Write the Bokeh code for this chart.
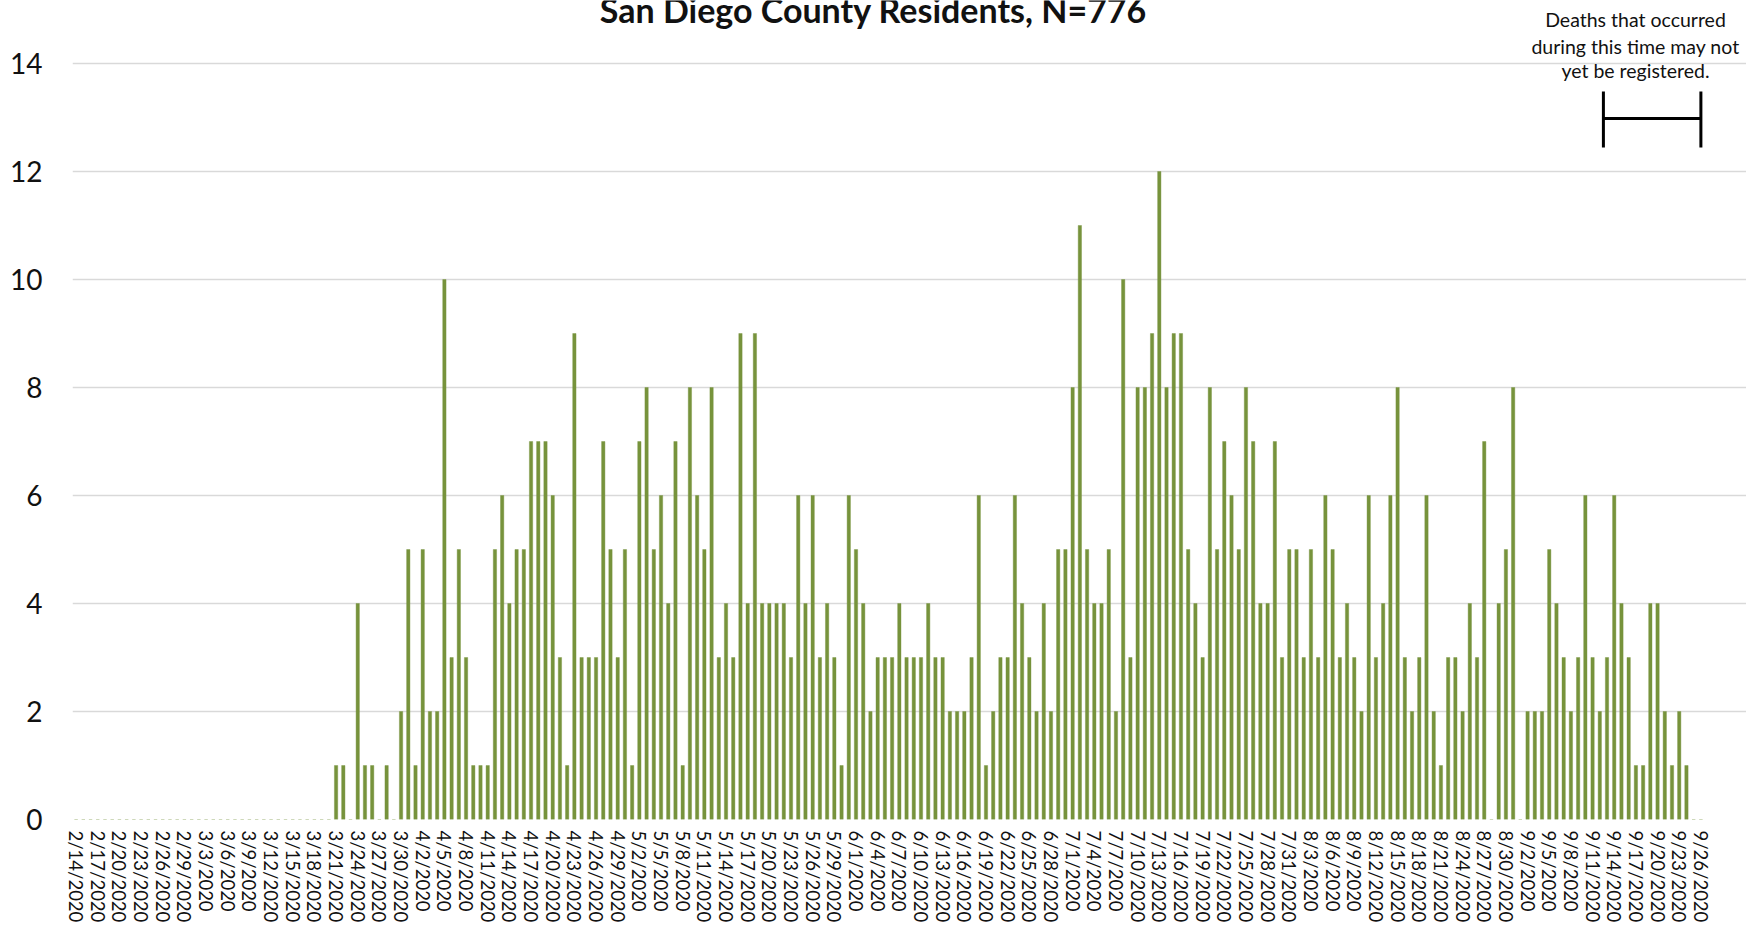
import pandas as pd
from bokeh.plotting import figure
from bokeh.models import Range1d, FixedTicker, ColumnDataSource, Label
from bokeh.embed import file_html
from bokeh.resources import INLINE

# Daily deaths by date of death, 2/14/2020 - 9/26/2020
feb = [0, 0, 0, 0, 0, 0, 0, 0, 0, 0, 0, 0, 0, 0, 0, 0]
mar = [0, 0, 0, 0, 0, 0, 0, 0, 0, 0, 0, 0, 0, 0, 0, 0, 0, 0, 0, 0,
       1, 1, 0, 4, 1, 1, 0, 1, 0, 2, 5]
apr = [1, 5, 2, 2, 10, 3, 5, 3, 1, 1, 1, 5, 6, 4, 5, 5, 7, 7, 7, 6,
       3, 1, 9, 3, 3, 3, 7, 5, 3, 5]
may = [1, 7, 8, 5, 6, 4, 7, 1, 8, 6, 5, 8, 3, 4, 3, 9, 4, 9, 4, 4,
       4, 4, 3, 6, 4, 6, 3, 4, 3, 1, 6]
jun = [5, 4, 2, 3, 3, 3, 4, 3, 3, 3, 4, 3, 3, 2, 2, 2, 3, 6, 1, 2,
       3, 3, 6, 4, 3, 2, 4, 2, 5, 5]
jul = [8, 11, 5, 4, 4, 5, 2, 10, 3, 8, 8, 9, 12, 8, 9, 9, 5, 4, 3, 8,
       5, 7, 6, 5, 8, 7, 4, 4, 7, 3, 5]
aug = [5, 3, 5, 3, 6, 5, 3, 4, 3, 2, 6, 3, 4, 6, 8, 3, 2, 3, 6, 2,
       1, 3, 3, 2, 4, 3, 7, 0, 4, 5, 8]
sep = [0, 2, 2, 2, 5, 4, 3, 2, 3, 6, 3, 2, 3, 6, 4, 3, 1, 1, 4, 4,
       2, 1, 2, 1, 0, 0]

deaths = feb + mar + apr + may + jun + jul + aug + sep
dates = pd.date_range("2020-02-14", "2020-09-26", freq="D")
day_labels = [f"{d.month}/{d.day}/{d.year}" for d in dates]
assert len(deaths) == len(day_labels)

y_ticks = [0, 2, 4, 6, 8, 10, 12, 14]
pending_from = "9/13/2020"
pending_to = "9/26/2020"

# ---- layout (pixels) ----
W, H = 1746, 926
LEFT, BOTTOM = 72, 107
PLOT_RIGHT = 1704
TOP_TICK_PX = 63            # pixel row of the top gridline
n = len(deaths)
px_day = (PLOT_RIGHT - LEFT) / n
frame_h = H - BOTTOM
px_unit = (frame_h - TOP_TICK_PX) / y_ticks[-1]


def x_at(px):
    return -0.5 + (px - LEFT) / px_day


def y_at(py):
    return (frame_h - py) / px_unit


FONT = "Lato"
BAR = "#77933C"

idx = list(range(n))
src = ColumnDataSource(dict(x=idx, y=deaths, label=day_labels))

p = figure(width=W, height=H,
           x_range=Range1d(-0.5, x_at(W)), y_range=Range1d(0, y_at(0)),
           output_backend="svg", toolbar_location=None,
           min_border_left=LEFT, min_border_right=0,
           min_border_top=0, min_border_bottom=BOTTOM)
p.outline_line_color = None
p.background_fill_color = "white"
p.border_fill_color = "white"

p.vbar(x="x", top="y", width=0.46, bottom=0, source=src,
       fill_color=BAR, line_color=BAR, line_width=0.4)

# y axis
p.yaxis.ticker = FixedTicker(ticks=y_ticks)
p.yaxis.axis_line_color = None
p.yaxis.major_tick_line_color = None
p.yaxis.minor_tick_line_color = None
p.yaxis.major_tick_out = 0
p.yaxis.major_tick_in = 0
p.yaxis.major_label_standoff = 30
p.yaxis.major_label_text_font = FONT
p.yaxis.major_label_text_font_size = "28px"
p.yaxis.major_label_text_color = "#111111"

# x axis: every third day labelled
x_ticks = idx[::3]
p.xaxis.ticker = FixedTicker(ticks=x_ticks)
p.xaxis.major_label_overrides = {i: day_labels[i] for i in x_ticks}
p.xaxis.major_label_orientation = "vertical"
p.xaxis.axis_line_color = None
p.xaxis.major_tick_line_color = None
p.xaxis.minor_tick_line_color = None
p.xaxis.major_tick_out = 0
p.xaxis.major_tick_in = 0
p.xaxis.major_label_standoff = 11
p.xaxis.major_label_text_font = FONT
p.xaxis.major_label_text_font_size = "18.5px"
p.xaxis.major_label_text_color = "#111111"

p.xgrid.visible = False
p.ygrid.ticker = FixedTicker(ticks=y_ticks)
p.ygrid.grid_line_color = "#D9D9D9"
p.ygrid.grid_line_width = 1.5
p.ygrid.bounds = (-0.5, n - 0.5)

# title (partly above the page edge)
p.add_layout(Label(x=x_at(W / 2), y=y_at(9),
                   text=f"San Diego County Residents, N={sum(deaths)}",
                   text_font=FONT, text_font_style="bold",
                   text_font_size="34px", text_align="center",
                   text_baseline="alphabetic", text_color="#111111"))

# note on the most recent, still incomplete days
note_lines = ["Deaths that occurred", "during this time may not",
              "yet be registered."]
note_px = [19, 45.5, 70]
for line, py in zip(note_lines, note_px):
    p.add_layout(Label(x=x_at(1635), y=y_at(py), text=line,
                       text_font=FONT, text_font_size="19.5px",
                       text_align="center", text_baseline="middle",
                       text_color="#111111"))

x0 = day_labels.index(pending_from) - 0.5
x1 = day_labels.index(pending_to)
yb, yt, ym = y_at(147), y_at(91), y_at(118)
p.segment(x0=[x0, x0, x1], y0=[ym, yb, yb], x1=[x1, x0, x1], y1=[ym, yt, yt],
          line_color="black", line_width=3)

open("out.html", "w").write(file_html(p, INLINE))
